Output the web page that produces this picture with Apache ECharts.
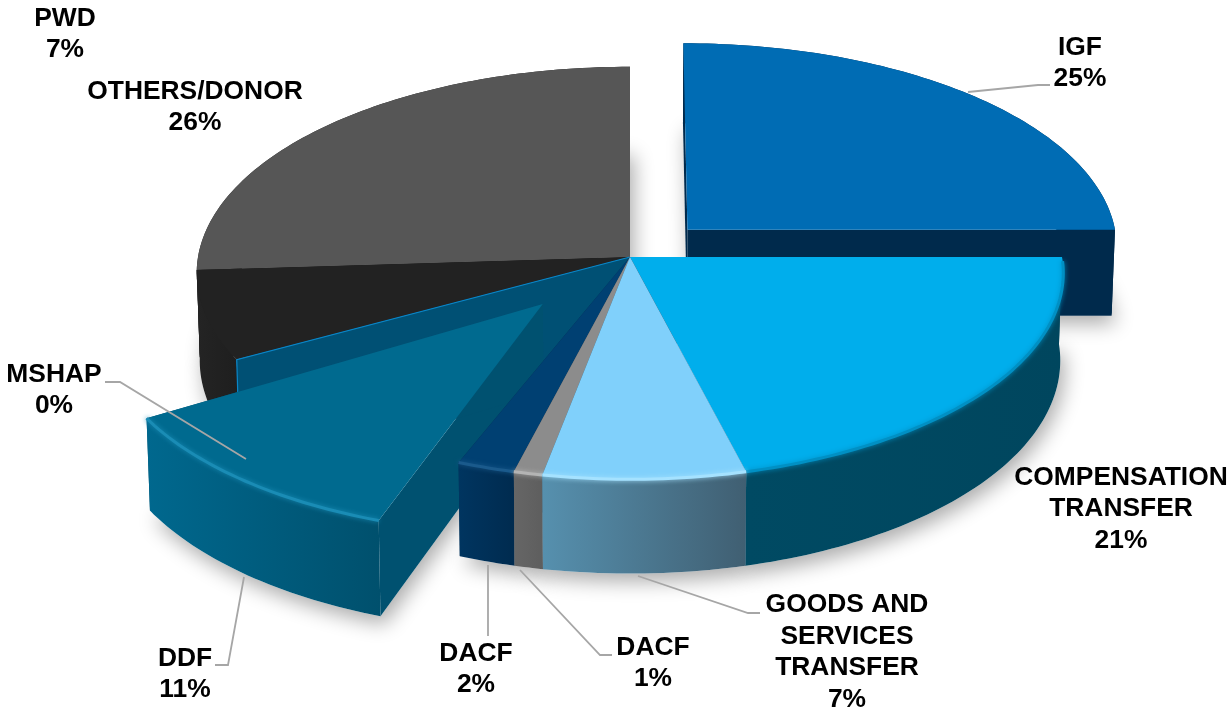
<!DOCTYPE html>
<html>
<head>
<meta charset="utf-8">
<style>html,body{margin:0;padding:0;background:#fff}#chart{width:1231px;height:709px}</style>
<script src="https://cdn.jsdelivr.net/npm/echarts@6/dist/echarts.min.js"></script>
</head>
<body>
<div id="chart"></div>
<script>
// Funding sources, clockwise from twelve o'clock (percent of total).
const categories = ['IGF', 'COMPENSATION\nTRANSFER', 'GOODS AND\nSERVICES\nTRANSFER', 'DACF', 'DACF', 'DDF', 'MSHAP', 'PWD', 'OTHERS/DONOR'];
const shares = [25, 21, 7, 1, 2, 11, 0, 7, 26];

// Per-slice pull-out from the centre, as a fraction of the radius.
const explode = [0.19, 0, 0, 0, 0, 0.3, 0, 0, 0];
// Extra rotation of a pulled-out wedge, in degrees; its span stays the same.
const wedgeTurn = [0, 0, 0, 0, 0, -2.3, 0, 0, 0];

// Painter's order for the slices, farthest first.
const paintOrder = [8, 7, 6, 0, 5, 4, 3, 1, 2];

const topColors = ['#006cb4', '#00aeec', '#80d0fb', '#8c8c8c', '#004072', '#006a8f', '#00506f', '#222222', '#565656'];
const radialColors = ['#002a4c', '#00465f', '#4a7a94', '#636363', '#002c52', '#005170', '#005074', '#222222', '#222222'];
const wallStops = [
  ['#002a4c', '#002a4c'], ['#004a63', '#00465e'], ['#5690ae', '#405f72'],
  ['#666666', '#5e5e5e'], ['#003560', '#002b4f'], ['#00688e', '#00506d'],
  ['#005074', '#005074'], ['#242424', '#1e1e1e'], ['#222222', '#222222']
];
// Rim highlight colour; null means the rim stays unlit.
const rimColors = [null, '#0090c4', '#a5e2ff', '#b4b4b4', '#1a5a8c', '#1a8cb5', '#0a86c8', null, null];

// Label anchor (centre of the text block) and leader line for each slice.
const labelCentres = [
  [1080, 63], [1121, 509], [847, 652], [653, 663], [476, 669], [185, 674], [54, 390], [65, 34], [195, 107]
];
const leaders = [
  [[968, 92], [1038, 85], [1050, 85]],
  null,
  [[638, 576], [748, 613], [760, 613]],
  [[520, 570], [600, 655], [612, 655]],
  [[488, 565], [488, 636]],
  [[244, 577], [228, 665], [215, 665]],
  [[105, 382], [120, 382], [246, 459]],
  null,
  null
];

// Perspective disc: centre, radii at mid-depth, camera strength and wall height.
const centre = [630, 257];
const radiusX = 432;
const radiusY = 205;
const perspective = 0.0776;
const wallHeight = 87;
const floorShrink = 0.993;

const total = shares.reduce(function (a, b) { return a + b; }, 0);
const startAngles = [];
shares.reduce(function (sum, v, i) { startAngles[i] = sum; return sum + v; }, 0);

function toRadians(share) { return share / total * Math.PI * 2; }

// Projects a point on the disc (x to the right, y towards the viewer).
function project(x, y) {
  const s = 1 / (1 - perspective * y);
  return [centre[0] + x * radiusX * s, centre[1] + y * radiusY * s, s];
}
function onFloor(p) {
  return [centre[0] + (p[0] - centre[0]) * floorShrink, p[1] + wallHeight * p[2]];
}
function flat(p) { return [p[0], p[1]]; }

function sliceGeometry(i) {
  const a0 = toRadians(startAngles[i]);
  const a1 = toRadians(startAngles[i] + shares[i]);
  const mid = (a0 + a1) / 2;
  const ox = Math.sin(mid) * explode[i];
  const oy = -Math.cos(mid) * explode[i];
  const turn = wedgeTurn[i] * Math.PI / 180;
  const steps = Math.max(1, Math.ceil((a1 - a0) / 0.02));
  const rim = [];
  for (let k = 0; k <= steps; k++) {
    const a = a0 + (a1 - a0) * k / steps + turn;
    rim.push(project(Math.sin(a) + ox, -Math.cos(a) + oy));
  }
  return { apex: project(ox, oy), rim: rim };
}

function renderSlice(params) {
  const i = params.dataIndex;
  const rank = paintOrder.indexOf(i);
  const g = sliceGeometry(i);
  const rim = g.rim;
  const first = rim[0];
  const last = rim[rim.length - 1];
  const floorRim = rim.map(onFloor);
  const children = [];
  const z = function (part) { return 10 + rank * 10 + part; };

  // Soft contact shadow from the floor outline.
  if (shares[i] > 0) {
    children.push({
      type: 'polygon', z2: 1, silent: true,
      shape: { points: [flat(onFloor(g.apex))].concat(floorRim) },
      style: { fill: '#ffffff', shadowBlur: 20, shadowOffsetY: 8, shadowOffsetX: 4, shadowColor: 'rgba(0,0,0,0.33)' }
    });
  }

  // Radial side walls.
  [first, last].forEach(function (edge) {
    children.push({
      type: 'polygon', z2: z(0),
      shape: { points: [flat(g.apex), flat(edge), onFloor(edge), onFloor(g.apex)] },
      style: { fill: radialColors[i] }
    });
  });

  // Curved outer wall.
  if (shares[i] > 0) {
    children.push({
      type: 'polygon', z2: z(1),
      shape: { points: rim.map(flat).concat(floorRim.slice().reverse()) },
      style: {
        fill: new echarts.graphic.LinearGradient(0, 0, 1, 0, [
          { offset: 0, color: wallStops[i][0] },
          { offset: 1, color: wallStops[i][1] }
        ])
      }
    });
    // Top face.
    children.push({
      type: 'polygon', z2: z(2),
      shape: { points: [flat(g.apex)].concat(rim.map(flat)) },
      style: { fill: topColors[i] }
    });
    // Bevel highlight on the visible front part of the rim.
    const frontRim = rim.filter(function (p) { return p[1] > g.apex[1] + 4; }).map(flat);
    if (rimColors[i] && frontRim.length > 1) {
      children.push({
        type: 'polyline', z2: z(3),
        shape: { points: frontRim },
        style: { fill: null, stroke: rimColors[i], lineWidth: 3, shadowBlur: 5, shadowColor: rimColors[i] }
      });
    }
  } else {
    // A zero share leaves only its edge highlight.
    children.push({
      type: 'polyline', z2: z(3),
      shape: { points: [flat(g.apex), flat(first), onFloor(first)] },
      style: { fill: null, stroke: rimColors[i], lineWidth: 1.2 }
    });
  }

  // Leader line and text sit above every face.
  if (leaders[i]) {
    children.push({
      type: 'polyline', z2: 200,
      shape: { points: leaders[i] },
      style: { fill: null, stroke: '#a6a6a6', lineWidth: 1.8 }
    });
  }
  children.push({
    type: 'text', z2: 210,
    style: {
      x: labelCentres[i][0], y: labelCentres[i][1],
      text: categories[i] + '\n' + shares[i] + '%',
      fill: '#000000', align: 'center', verticalAlign: 'middle',
      font: 'bold 26.4px "Liberation Sans", Arial, sans-serif', lineHeight: 31.5
    }
  });
  return { type: 'group', children: children };
}

const chart = echarts.init(document.getElementById('chart'), null, { renderer: 'canvas' });
chart.setOption({
  animation: false,
  backgroundColor: '#ffffff',
  series: [{
    type: 'custom',
    coordinateSystem: 'none',
    silent: true,
    clip: false,
    data: shares.map(function (v, i) { return { name: categories[i], value: v }; }),
    renderItem: renderSlice
  }]
});
</script>
</body>
</html>
